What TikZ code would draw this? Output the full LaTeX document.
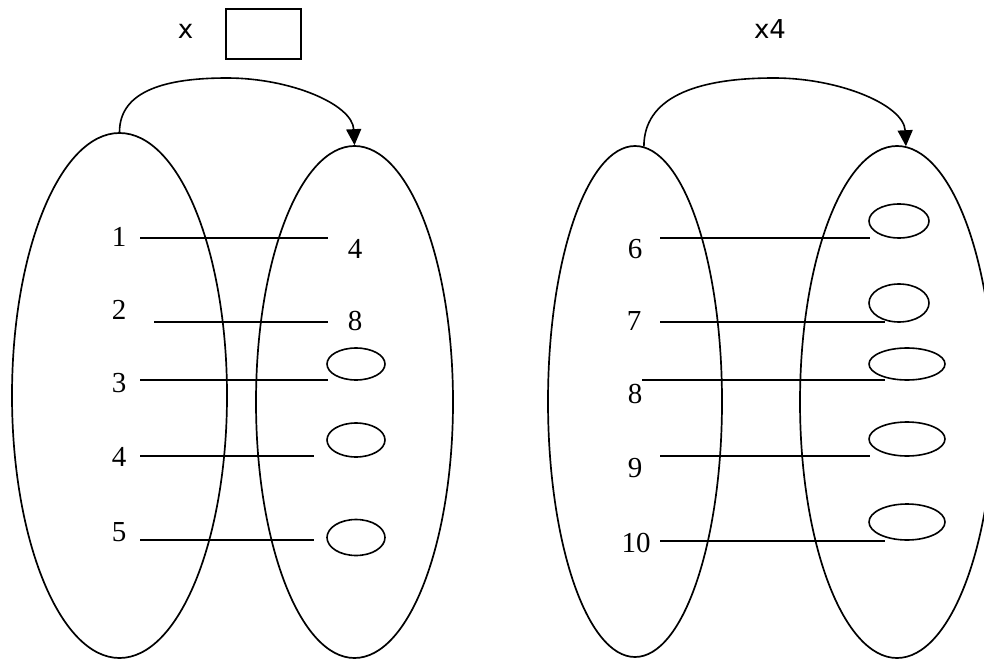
\documentclass[tikz,border=0pt]{standalone}
\usepackage{fontspec}
\setmainfont{Liberation Serif}
\newfontfamily\labelsans{DejaVu Sans}
\usetikzlibrary{shapes.geometric,arrows.meta}
\tikzset{
  bigset/.style={draw, ellipse, line width=1.7pt, inner sep=0pt},
  smallset/.style={draw, ellipse, line width=1.6pt, inner sep=0pt},
  num/.style={inner sep=0pt, font=\fontsize{29}{31}\selectfont},
  sanslabel/.style={inner sep=0pt, font=\labelsans\fontsize{26}{28}\selectfont},
  mapline/.style={line width=1.5pt},
  maparrow/.style={line width=1.6pt, -{Triangle[length=16pt,width=15pt]}},
}
\begin{document}
\begin{tikzpicture}[x=1pt,y=-1pt]
\useasboundingbox (0,0) rectangle (984,660);
% top labels
\node[sanslabel] (xl) at (185.5,31) {x};
\node[draw, line width=1.2pt, minimum width=75pt, minimum height=50pt, inner sep=0pt] (box) at (263.5,34) {};
\node[sanslabel] (x4) at (770,29.5) {x4};
% big ellipses
\node[bigset, minimum width=215pt, minimum height=525pt] (A) at (119.5,395.5) {};
\node[bigset, minimum width=197pt, minimum height=512pt] (B) at (354.5,402) {};
\node[bigset, minimum width=174pt, minimum height=511pt] (C) at (635,401.5) {};
\node[bigset, minimum width=194pt, minimum height=512pt] (D) at (897,402) {};
% arrows
\coordinate (p1) at (227,78);
\coordinate (p2) at (774,78);
\draw[maparrow] (A.north) .. controls +(0,-42) and +(-60,0) .. (p1)
  .. controls +(63,0) and +(-2,-41) .. (B.north);
\draw[maparrow] (C.88) .. controls +(0,-48) and +(-80,0) .. (p2)
  .. controls +(66,0) and +(-2,-41) .. (D.88);
% left group numbers
\node[num] (n1) at (119,237) {1};
\node[num] (n2) at (119,310) {2};
\node[num] (n3) at (119,383) {3};
\node[num] (n4) at (119,457) {4};
\node[num] (n5) at (119,532) {5};
\node[num] (m4) at (355,249) {4};
\node[num] (m8) at (355,321) {8};
\node[smallset, minimum width=58pt, minimum height=32pt] (e3) at (356,364) {};
\node[smallset, minimum width=58pt, minimum height=34pt] (e4) at (356,440) {};
\node[smallset, minimum width=58pt, minimum height=36pt] (e5) at (356,537.5) {};
% left group lines
\coordinate (a1) at (140,238); \coordinate (b1) at (328,238);
\coordinate (a2) at (154,322); \coordinate (b2) at (328,322);
\coordinate (a3) at (140,380); \coordinate (b3) at (328,380);
\coordinate (a4) at (140,456); \coordinate (b4) at (314,456);
\coordinate (a5) at (140,540); \coordinate (b5) at (314,540);
\draw[mapline] (a1) -- (b1);
\draw[mapline] (a2) -- (b2);
\draw[mapline] (a3) -- (b3);
\draw[mapline] (a4) -- (b4);
\draw[mapline] (a5) -- (b5);
% right group numbers
\node[num] (n6) at (635,249) {6};
\node[num] (n7) at (634,321) {7};
\node[num] (n8) at (635,394) {8};
\node[num] (n9) at (635,468) {9};
\node[num] (n10) at (636,543) {10};
\node[smallset, minimum width=60pt, minimum height=34pt] (f6) at (899,221) {};
\node[smallset, minimum width=60pt, minimum height=38pt] (f7) at (899,303) {};
\node[smallset, minimum width=76pt, minimum height=32pt] (f8) at (907,364) {};
\node[smallset, minimum width=76pt, minimum height=34pt] (f9) at (907,439) {};
\node[smallset, minimum width=76pt, minimum height=36pt] (f10) at (907,522) {};
% right group lines
\coordinate (c6) at (660,238); \coordinate (d6) at (870,238);
\coordinate (c7) at (660,322); \coordinate (d7) at (885,322);
\coordinate (c8) at (642,380); \coordinate (d8) at (885,380);
\coordinate (c9) at (660,456); \coordinate (d9) at (870,456);
\coordinate (c10) at (660,541); \coordinate (d10) at (885,541);
\draw[mapline] (c6) -- (d6);
\draw[mapline] (c7) -- (d7);
\draw[mapline] (c8) -- (d8);
\draw[mapline] (c9) -- (d9);
\draw[mapline] (c10) -- (d10);
\end{tikzpicture}
\end{document}
